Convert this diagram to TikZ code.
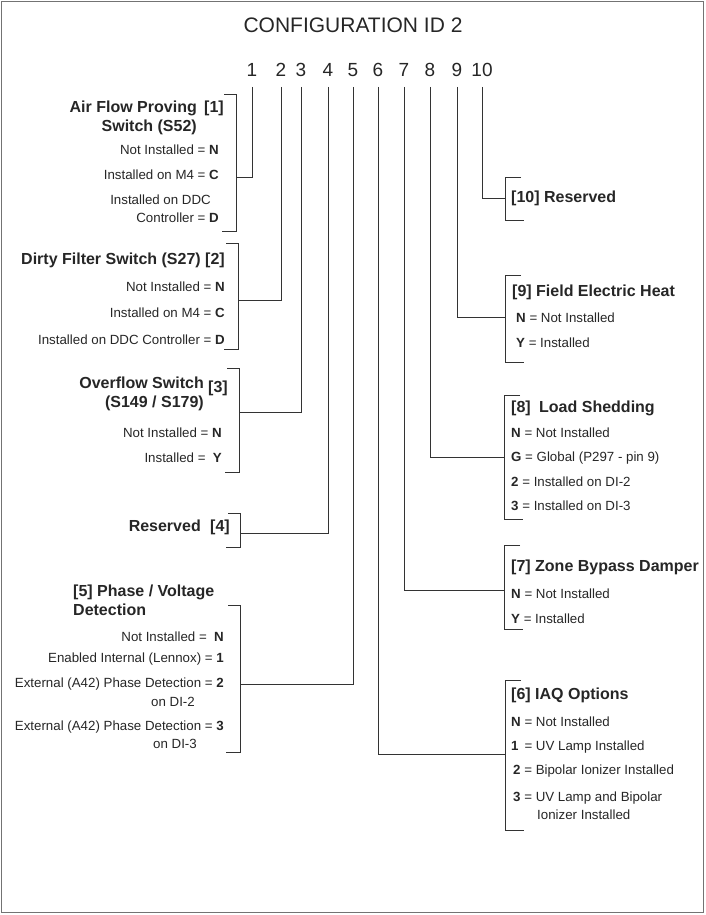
\documentclass[tikz,border=0pt]{standalone}
\usepackage{fontspec}
\setmainfont{Liberation Sans}
\tikzset{
  frm/.style={draw=black!55,line width=1.2pt},
  lead/.style={draw=black!80,line width=1pt},
  brk/.style={draw=black!80,line width=1pt},
  ttl/.style={font=\fontsize{21}{24}\selectfont,text=black!85},
  dig/.style={font=\fontsize{19}{21}\selectfont,text=black!85,inner sep=0pt,outer sep=0pt,text height=13.6pt},
  hd/.style={font=\fontsize{16}{19}\selectfont\bfseries,text=black!85,inner sep=0pt},
  op/.style={font=\fontsize{13.3}{16}\selectfont,text=black!85,inner sep=0pt},
}
\begin{document}
\begin{tikzpicture}[x=1pt,y=-1pt]
  \useasboundingbox (0,0) rectangle (705,915);
  \draw[frm] (1.5,1.5) rectangle (703.5,912.5);
  \node[ttl] (title) at (353,25) {CONFIGURATION ID 2};
  % digit row
  \foreach \n/\x in {1/252,2/281,3/301,4/328,5/353,6/378,7/404,8/430,9/457,10/482}{
    \node[dig] (d\n) at (\x,70) {\n};
  }
  % leads from the digits to the brackets
  \foreach \n/\xb/\yj in {1/236/177,2/238/300,3/239/412,4/240/533,5/240/684,
                          6/505/754,7/504/590,8/504/457,9/505/317,10/505/198}{
    \coordinate (j\n) at (\xb,\yj);
    \draw[lead] ([yshift=-10pt]d\n.south) |- (j\n);
  }
  % left brackets
  \foreach \xb/\t/\b in {236/95/231,238/243/349,239/368/472,240/513/547,240/605/752}{
    \draw[brk] (\xb-12,\t) -- (\xb,\t) -- (\xb,\b) -- (\xb-14,\b);
  }
  % right brackets
  \foreach \xb/\t/\b in {505/177/220,505/275/362,504/395/519,504/545/629,505/680/830}{
    \draw[brk] (\xb+16,\t) -- (\xb,\t) -- (\xb,\b) -- (\xb+19,\b);
  }
  % [1]
  \node[hd,align=right,anchor=east] (l1h) at (197,117.5) {Air Flow Proving\\Switch (S52)};
  \node[hd,anchor=west] (l1n) at (204,108) {[1]};
  \node[op,anchor=east] (l1a) at (219,150) {Not Installed = \textbf{N}};
  \node[op,anchor=east] (l1b) at (219,175) {Installed on M4 = \textbf{C}};
  \node[op,anchor=east] (l1c) at (211,200) {Installed on DDC};
  \node[op,anchor=east] (l1d) at (219,218) {Controller = \textbf{D}};
  % [2]
  \node[hd,anchor=east] (l2h) at (225,260) {Dirty Filter Switch (S27) [2]};
  \node[op,anchor=east] (l2a) at (225,287) {Not Installed = \textbf{N}};
  \node[op,anchor=east] (l2b) at (225,313) {Installed on M4 = \textbf{C}};
  \node[op,anchor=east] (l2c) at (225,340) {Installed on DDC Controller = \textbf{D}};
  % [3]
  \node[hd,align=right,anchor=east] (l3h) at (204,394) {Overflow Switch\\(S149 / S179)};
  \node[hd,anchor=west] (l3n) at (208,388) {[3]};
  \node[op,anchor=east] (l3a) at (222,433) {Not Installed = \textbf{N}};
  \node[op,anchor=east] (l3b) at (222,458) {Installed = ~\textbf{Y}};
  % [4]
  \node[hd,anchor=east] (l4h) at (230,527) {Reserved\hspace{5pt} [4]};
  % [5]
  \node[hd,align=left,anchor=west] (l5h) at (73,600) {[5] Phase / Voltage\\Detection};
  \node[op,anchor=east] (l5a) at (224,637) {Not Installed = ~\textbf{N}};
  \node[op,anchor=east] (l5b) at (224,659) {Enabled Internal (Lennox) = \textbf{1}};
  \node[op,anchor=east] (l5c) at (224,684) {External (A42) Phase Detection = \textbf{2}};
  \node[op,anchor=east] (l5d) at (195,702) {on DI-2};
  \node[op,anchor=east] (l5e) at (224,727) {External (A42) Phase Detection = \textbf{3}};
  \node[op,anchor=east] (l5f) at (197,744) {on DI-3};
  % [10]
  \node[hd,anchor=west] (r10h) at (511,198) {[10] Reserved};
  % [9]
  \node[hd,anchor=west] (r9h) at (512,292) {[9] Field Electric Heat};
  \node[op,anchor=west] (r9a) at (516,318) {\textbf{N} = Not Installed};
  \node[op,anchor=west] (r9b) at (516,343) {\textbf{Y} = Installed};
  % [8]
  \node[hd,anchor=west] (r8h) at (511,408) {[8]\hspace{4pt} Load Shedding};
  \node[op,anchor=west] (r8a) at (511,433) {\textbf{N} = Not Installed};
  \node[op,anchor=west] (r8b) at (511,458) {\textbf{G} = Global (P297 - pin 9)};
  \node[op,anchor=west] (r8c) at (511,482) {\textbf{2} = Installed on DI-2};
  \node[op,anchor=west] (r8d) at (511,506) {\textbf{3} = Installed on DI-3};
  % [7]
  \node[hd,anchor=west] (r7h) at (511,567) {[7] Zone Bypass Damper};
  \node[op,anchor=west] (r7a) at (511,594) {\textbf{N} = Not Installed};
  \node[op,anchor=west] (r7b) at (511,619) {\textbf{Y} = Installed};
  % [6]
  \node[hd,anchor=west] (r6h) at (511,695) {[6] IAQ Options};
  \node[op,anchor=west] (r6a) at (511,722) {\textbf{N} = Not Installed};
  \node[op,anchor=west] (r6b) at (511,747) {\textbf{1}\, = UV Lamp Installed};
  \node[op,anchor=west] (r6c) at (513,771) {\textbf{2} = Bipolar Ionizer Installed};
  \node[op,anchor=west] (r6d) at (513,798) {\textbf{3} = UV Lamp and Bipolar};
  \node[op,anchor=west] (r6e) at (537,815) {Ionizer Installed};
\end{tikzpicture}
\end{document}
